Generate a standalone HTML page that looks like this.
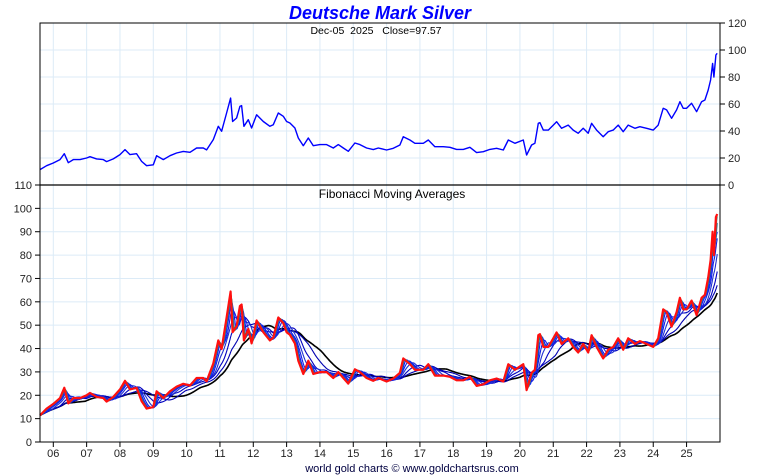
<!DOCTYPE html>
<html><head><meta charset="utf-8"><style>
body{margin:0;background:#fff;}
svg{display:block;font-family:"Liberation Sans",sans-serif;}
</style></head><body>
<svg id="c" width="760" height="475"></svg>
<script>
const years=[2005.6,2005.8,2006.0,2006.2,2006.33,2006.45,2006.6,2006.8,2007.0,2007.1,2007.3,2007.5,2007.6,2007.8,2008.0,2008.15,2008.3,2008.5,2008.65,2008.8,2009.0,2009.1,2009.3,2009.5,2009.7,2009.9,2010.1,2010.3,2010.5,2010.6,2010.8,2010.95,2011.05,2011.2,2011.32,2011.38,2011.5,2011.6,2011.65,2011.72,2011.85,2011.95,2012.1,2012.3,2012.5,2012.6,2012.75,2012.9,2013.0,2013.1,2013.25,2013.35,2013.5,2013.65,2013.8,2014.0,2014.2,2014.4,2014.55,2014.7,2014.85,2015.05,2015.2,2015.4,2015.6,2015.75,2016.0,2016.2,2016.4,2016.5,2016.7,2016.85,2017.1,2017.25,2017.45,2017.7,2017.9,2018.1,2018.3,2018.5,2018.7,2018.9,2019.1,2019.3,2019.5,2019.65,2019.85,2020.1,2020.2,2020.35,2020.45,2020.55,2020.6,2020.7,2020.85,2021.0,2021.1,2021.25,2021.45,2021.6,2021.75,2021.9,2022.05,2022.15,2022.3,2022.5,2022.65,2022.8,2022.95,2023.1,2023.25,2023.45,2023.6,2023.8,2024.0,2024.15,2024.3,2024.4,2024.55,2024.7,2024.8,2024.9,2025.0,2025.15,2025.3,2025.45,2025.55,2025.65,2025.72,2025.78,2025.82,2025.88,2025.92];
const prices=[11.4,14.3,16.3,18.8,23.2,16.5,18.8,18.8,20,21,19.3,18.8,17.3,19.3,22.5,26.2,22.5,23.2,17.5,14.3,15,21.7,18.8,21.7,23.7,24.9,24.2,27.4,27.4,26,33.6,43.5,39.8,53.3,64.4,47,49.6,58.2,58.8,43.5,48.4,42.2,52,47,43.5,44.7,53.3,50.9,47,45.9,42.2,34.8,29.1,34.8,29.1,29.9,29.9,27.4,29.9,27.4,25,31.1,29.9,27.4,26.2,27.4,25.9,27.2,29.6,35.8,33.3,30.9,30.9,33.3,28.4,28.4,27.9,26.4,26.4,27.9,24,24.7,26.4,27.2,25.9,33.3,30.9,33.3,22.2,29.6,30.9,45.7,46.2,40.7,40.7,44.4,46.9,42,44.4,40.7,38.3,42,38.3,45.7,40.7,35.8,39.5,40.7,44.4,39.5,44.4,42,43.2,42,40.7,44.4,56.8,55.6,49.4,55.6,61.7,56.8,56.8,60.5,54.3,61.7,63,70.4,77.8,90,80,96.3,97.57];
const topTicks=[0,20,40,60,80,100,120];
const botTicks=[0,10,20,30,40,50,60,70,80,90,100,110];
const yearLabels=["06","07","08","09","10","11","12","13","14","15","16","17","18","19","20","21","22","23","24","25"];
const maPeriods=[5,8,13,21,34,55,89,144,233,340];
const maColors=["#ff2020","#e03020","#2a8a6a","#1a7a9a","#1010ff","#1020e0","#2030d0","#0000c0","#0000b0","#000000"];

const NS="http://www.w3.org/2000/svg";
const svg=document.getElementById('c');
const L=40,R=720,T1=23,B1=185,B2=442;
const xS=t=>53.3+(t-2006)*33.33;
const yTop=v=>B1-v*(B1-T1)/120;
const yBot=v=>B2-v*(B2-B1)/110;
function mk(tag,attrs,parent){const e=document.createElementNS(NS,tag);for(const k in attrs)e.setAttribute(k,attrs[k]);(parent||svg).appendChild(e);return e;}

const grid=mk('g',{});


yearLabels.forEach((lab,i)=>{const x=xS(2006+i);mk('line',{x1:x,x2:x,y1:T1,y2:B2,stroke:'#dcebf7','stroke-width':1},grid);});
topTicks.forEach(v=>{const y=yTop(v);mk('line',{x1:L,x2:R,y1:y,y2:y,stroke:'#dcebf7','stroke-width':1},grid);});
botTicks.forEach(v=>{const y=yBot(v);mk('line',{x1:L,x2:R,y1:y,y2:y,stroke:'#dcebf7','stroke-width':1},grid);});

const topPts=years.map((t,i)=>xS(t).toFixed(1)+','+yTop(prices[i]).toFixed(1)).join(' ');
const tl=mk('polyline',{points:topPts,fill:'none',stroke:'#0000ff','stroke-width':1.4,'stroke-linejoin':'round'});



const step=1/250,dt=[],dv=[];
for(let t=years[0];t<=years[years.length-1]+1e-9;t+=step){
  let j=0;while(j<years.length-2&&years[j+1]<t)j++;
  const f=Math.min(1,Math.max(0,(t-years[j])/(years[j+1]-years[j])));
  dt.push(t);dv.push(prices[j]+(prices[j+1]-prices[j])*f);
}
for(let m=maPeriods.length-1;m>=0;m--){
  const p=maPeriods[m];let s=0;const pts=[];
  for(let i=0;i<dv.length;i++){s+=dv[i];if(i>=p)s-=dv[i-p];const n=Math.min(i+1,p);if(i%2===0||i===dv.length-1)pts.push(xS(dt[i]).toFixed(1)+','+yBot(s/n).toFixed(1));}
  const ml=mk('polyline',{points:pts.join(' '),fill:'none',stroke:maColors[m],'stroke-width':m===maPeriods.length-1?1.6:1.1});
  
  
}
const botPts=years.map((t,i)=>xS(t).toFixed(1)+','+yBot(prices[i]).toFixed(1)).join(' ');
const bl=mk('polyline',{points:botPts,fill:'none',stroke:'#ff1010','stroke-width':2.2,'stroke-linejoin':'round'});



mk('rect',{x:L,y:T1,width:R-L,height:B2-T1,fill:'none',stroke:'#000','stroke-width':1});
mk('line',{x1:L,x2:R,y1:B1,y2:B1,stroke:'#000','stroke-width':1.2});

topTicks.forEach(v=>{const y=yTop(v);mk('line',{x1:R,x2:R+5,y1:y,y2:y,stroke:'#000'});
  const tx=mk('text',{x:R+8,y:y+4,'font-size':11,fill:'#222'});tx.textContent=v;
  
  });
botTicks.forEach(v=>{const y=yBot(v);mk('line',{x1:L-5,x2:L,y1:y,y2:y,stroke:'#000'});
  const tx=mk('text',{x:L-8,y:y+4,'font-size':11,fill:'#222','text-anchor':'end'});tx.textContent=v;
  
  });
yearLabels.forEach((lab,i)=>{const x=xS(2006+i);mk('line',{x1:x,x2:x,y1:B2,y2:B2+5,stroke:'#000'});
  const tx=mk('text',{x:x,y:457,'font-size':11,fill:'#222','text-anchor':'middle'});tx.textContent=lab;
  
  });
</script>
<svg width="760" height="475" style="position:absolute;left:0;top:0">
<text x="380" y="19" font-size="18" font-weight="bold" font-style="italic" fill="#0000ff" text-anchor="middle" font-family="Liberation Sans,sans-serif">Deutsche Mark Silver</text>
<text x="376" y="34" font-size="10.5" fill="#000" text-anchor="middle" font-family="Liberation Sans,sans-serif" xml:space="preserve">Dec-05  2025   Close=97.57</text>
<text x="392" y="198" font-size="12" fill="#000" text-anchor="middle" font-family="Liberation Sans,sans-serif">Fibonacci Moving Averages</text>
<text x="412" y="472" font-size="11" fill="#000040" text-anchor="middle" font-family="Liberation Sans,sans-serif">world gold charts © www.goldchartsrus.com</text>
</svg>
</body></html>
